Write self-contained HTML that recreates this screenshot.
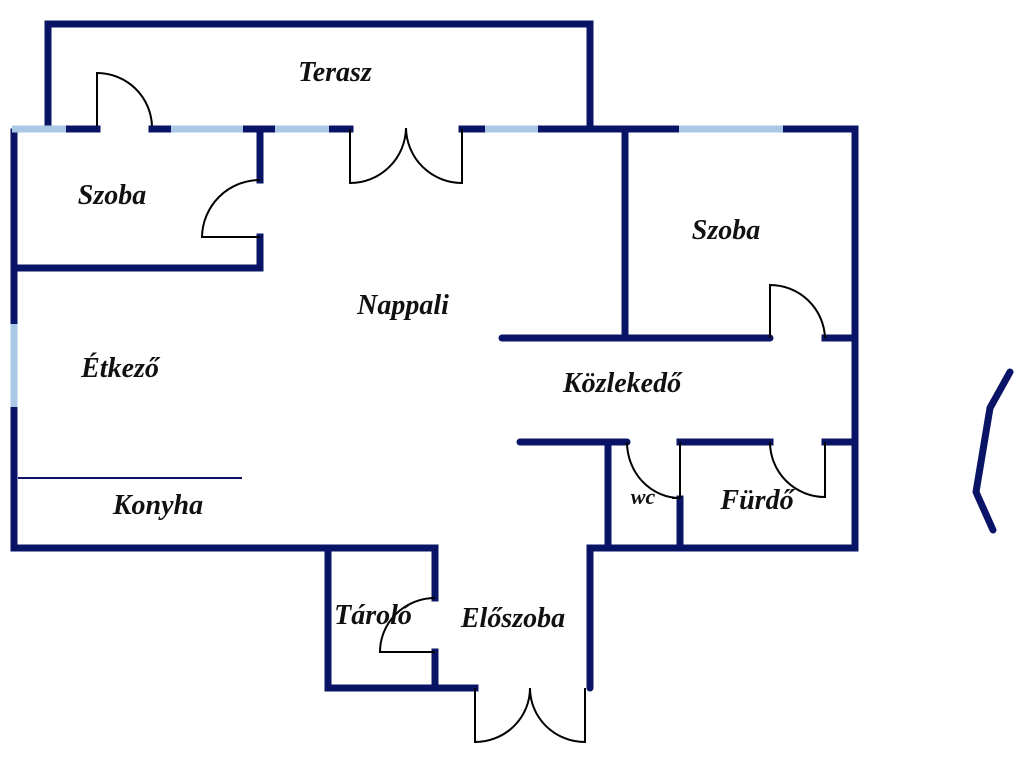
<!DOCTYPE html>
<html><head><meta charset="utf-8"><style>
html,body{margin:0;padding:0;background:#fff;width:1024px;height:768px;overflow:hidden}
text{font-family:"Liberation Serif",serif;font-weight:bold;font-style:italic;fill:#111}
</style></head><body>
<svg width="1024" height="768" viewBox="0 0 1024 768" xmlns="http://www.w3.org/2000/svg">
<g stroke="#0a1466" stroke-width="7" fill="none" stroke-linecap="square">
<polyline points="48,126 48,24 590,24 590,126"/>
<line x1="67" y1="129" x2="97" y2="129"/>
<line x1="152" y1="129" x2="170" y2="129"/>
<line x1="244" y1="129" x2="274" y2="129"/>
<line x1="330" y1="129" x2="350" y2="129"/>
<line x1="462" y1="129" x2="484" y2="129"/>
<line x1="539" y1="129" x2="678" y2="129"/>
<line x1="784" y1="129" x2="855" y2="129"/>
<line x1="14" y1="132" x2="14" y2="323"/>
<line x1="14" y1="408" x2="14" y2="548"/>
<line x1="260" y1="129" x2="260" y2="180"/>
<line x1="260" y1="237" x2="260" y2="268"/>
<line x1="14" y1="268" x2="260" y2="268"/>
<line x1="855" y1="129" x2="855" y2="548"/>
<line x1="625" y1="129" x2="625" y2="338"/>
<line x1="502" y1="338" x2="770" y2="338" stroke-linecap="round"/>
<line x1="825" y1="338" x2="855" y2="338"/>
<line x1="520" y1="442" x2="627" y2="442" stroke-linecap="round"/>
<line x1="608" y1="442" x2="608" y2="548"/>
<line x1="680" y1="442" x2="770" y2="442"/>
<line x1="825" y1="442" x2="855" y2="442"/>
<line x1="680" y1="499" x2="680" y2="548"/>
<line x1="14" y1="548" x2="435" y2="548"/>
<line x1="590" y1="548" x2="855" y2="548"/>
<line x1="328" y1="548" x2="328" y2="688"/>
<line x1="328" y1="688" x2="475" y2="688"/>
<line x1="435" y1="548" x2="435" y2="598"/>
<line x1="435" y1="652" x2="435" y2="688"/>
<line x1="590" y1="548" x2="590" y2="688" stroke-linecap="round"/>
<polyline points="1010,372 990,408 976,492 993,530" stroke-linecap="round" stroke-linejoin="round"/>
</g>
<g stroke="#a8c8e6" stroke-width="7">
<line x1="12" y1="129" x2="66" y2="129"/>
<line x1="171" y1="129" x2="243" y2="129"/>
<line x1="275" y1="129" x2="329" y2="129"/>
<line x1="485" y1="129" x2="538" y2="129"/>
<line x1="679" y1="129" x2="783" y2="129"/>
<line x1="14" y1="324" x2="14" y2="407"/>
</g>
<g stroke="#000" stroke-width="2" fill="none">
<path d="M97,126 V73 A55,55 0 0 1 152,126"/>
<path d="M260,180 A58,58 0 0 0 202,237 H260"/>
<path d="M350,129 V183 A56,56 0 0 0 406,128 A56,56 0 0 0 462,183 V129"/>
<path d="M770,338 V285 A55,55 0 0 1 825,338"/>
<path d="M627,442 A53,56 0 0 0 680,498 H672 M680,442 V498"/>
<path d="M770,442 A55,55 0 0 0 825,497 V442"/>
<path d="M435,598 A55,54 0 0 0 380,652 H435"/>
<path d="M475,688 V742 A55,54 0 0 0 530,688 A55,54 0 0 0 585,742 V688"/>
</g>
<line x1="18" y1="478" x2="242" y2="478" stroke="#0a1466" stroke-width="2"/>
<g font-size="28" text-anchor="middle">
<text x="335" y="81">Terasz</text>
<text x="112" y="204">Szoba</text>
<text x="403" y="314">Nappali</text>
<text x="726" y="239">Szoba</text>
<text x="120" y="377">Étkező</text>
<text x="622" y="392">Közlekedő</text>
<text x="158" y="514">Konyha</text>
<text x="643" y="504" font-size="22">wc</text>
<text x="757" y="509">Fürdő</text>
<text x="373" y="624">Tároló</text>
<text x="513" y="627">Előszoba</text>
</g>
</svg>
</body></html>
